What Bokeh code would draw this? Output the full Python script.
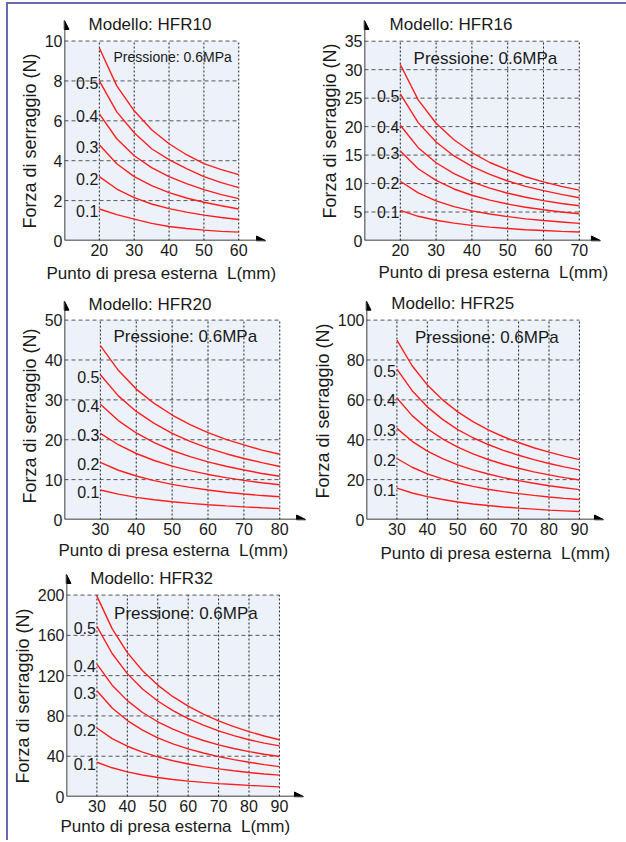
from bokeh.plotting import figure
from bokeh.models import Range1d, FixedTicker, Label, Arrow, NormalHead, Title
from bokeh.layouts import column, row
from bokeh.embed import file_html
from bokeh.resources import INLINE
from bokeh.core.properties import value

FONT = "Liberation Sans"
RED = "#FF1E1E"
TXT = "#1a1a1a"

pressures = ["0.1", "0.2", "0.3", "0.4", "0.5", "0.6"]

# ---- HFR10 ----
hfr10_L = [20, 25, 30, 35, 40, 45, 50, 55, 60]
hfr10_p01 = [1.58, 1.30, 1.07, 0.86, 0.70, 0.60, 0.52, 0.46, 0.42]
hfr10_p02 = [3.20, 2.58, 2.15, 1.83, 1.60, 1.42, 1.27, 1.15, 1.05]
hfr10_p03 = [4.80, 3.85, 3.20, 2.75, 2.40, 2.13, 1.92, 1.74, 1.58]
hfr10_p04 = [6.35, 5.10, 4.25, 3.65, 3.20, 2.85, 2.55, 2.30, 2.10]
hfr10_p05 = [8.00, 6.45, 5.40, 4.60, 4.05, 3.60, 3.20, 2.90, 2.65]
hfr10_p06 = [9.65, 7.75, 6.50, 5.55, 4.85, 4.30, 3.85, 3.55, 3.30]
hfr10_xticks = [20, 30, 40, 50, 60]
hfr10_yticks = [0, 2, 4, 6, 8, 10]

# ---- HFR16 ----
hfr16_L = [20, 25, 30, 35, 40, 45, 50, 55, 60, 65, 70]
hfr16_p01 = [5.3, 4.25, 3.55, 3.05, 2.65, 2.35, 2.1, 1.9, 1.75, 1.6, 1.5]
hfr16_p02 = [10.4, 8.35, 6.95, 5.95, 5.2, 4.65, 4.2, 3.8, 3.5, 3.25, 3.0]
hfr16_p03 = [15.7, 12.6, 10.55, 9.05, 7.95, 7.1, 6.4, 5.85, 5.4, 5.0, 4.7]
hfr16_p04 = [20.25, 16.3, 13.65, 11.75, 10.3, 9.2, 8.3, 7.6, 7.0, 6.5, 6.1]
hfr16_p05 = [25.75, 20.7, 17.3, 14.85, 13.0, 11.6, 10.45, 9.5, 8.75, 8.1, 7.5]
hfr16_p06 = [30.9, 24.7, 20.6, 17.7, 15.45, 13.7, 12.4, 11.2, 10.3, 9.5, 8.85]
hfr16_xticks = [20, 30, 40, 50, 60, 70]
hfr16_yticks = [0, 5, 10, 15, 20, 25, 30, 35]

# ---- HFR20 ----
hfr20_L = [30, 35, 40, 45, 50, 55, 60, 65, 70, 75, 80]
hfr20_p01 = [7.4, 6.35, 5.55, 4.95, 4.45, 4.05, 3.7, 3.42, 3.17, 2.93, 2.72]
hfr20_p02 = [14.3, 12.35, 10.9, 9.75, 8.8, 8.05, 7.4, 6.85, 6.4, 6.0, 5.7]
hfr20_p03 = [21.6, 18.75, 16.55, 14.8, 13.4, 12.25, 11.3, 10.5, 9.8, 9.2, 8.7]
hfr20_p04 = [28.9, 24.8, 21.7, 19.3, 17.3, 15.75, 14.45, 13.35, 12.4, 11.55, 10.85]
hfr20_p05 = [36.3, 31.0, 27.1, 24.1, 21.6, 19.6, 17.9, 16.5, 15.3, 14.25, 13.3]
hfr20_p06 = [43.6, 37.4, 32.7, 29.1, 26.2, 23.8, 21.8, 20.1, 18.7, 17.4, 16.35]
hfr20_xticks = [30, 40, 50, 60, 70, 80]
hfr20_yticks = [0, 10, 20, 30, 40, 50]

# ---- HFR25 ----
hfr25_L = [30, 35, 40, 45, 50, 55, 60, 65, 70, 75, 80, 85, 90]
hfr25_p01 = [15.7, 13.3, 11.5, 10.0, 8.8, 7.8, 7.0, 6.3, 5.7, 5.2, 4.7, 4.35, 4.0]
hfr25_p02 = [30.6, 26.2, 22.9, 20.35, 18.3, 16.6, 15.2, 14.0, 13.0, 12.1, 11.3, 10.6, 10.0]
hfr25_p03 = [45.7, 39.2, 34.3, 30.5, 27.4, 24.9, 22.8, 21.0, 19.5, 18.15, 16.95, 15.9, 15.0]
hfr25_p04 = [60.9, 52.1, 45.5, 40.4, 36.3, 32.9, 30.1, 27.7, 25.7, 23.9, 22.4, 21.0, 19.8]
hfr25_p05 = [75.4, 64.6, 56.5, 50.2, 45.1, 41.0, 37.6, 34.7, 32.2, 30.0, 28.1, 26.4, 24.9]
hfr25_p06 = [90.0, 77.1, 67.5, 60.0, 54.0, 49.1, 45.0, 41.5, 38.6, 36.0, 33.8, 31.8, 30.0]
hfr25_xticks = [30, 40, 50, 60, 70, 80, 90]
hfr25_yticks = [0, 20, 40, 60, 80, 100]

# ---- HFR32 ----
hfr32_L = [30, 35, 40, 45, 50, 55, 60, 65, 70, 75, 80, 85, 90]
hfr32_p01 = [34.0, 28.5, 24.4, 21.3, 18.9, 16.9, 15.3, 14.0, 12.8, 11.9, 11.0, 10.3, 9.6]
hfr32_p02 = [68.0, 57.5, 49.9, 44.0, 39.3, 35.5, 32.3, 29.7, 27.4, 25.5, 23.8, 22.4, 21.2]
hfr32_p03 = [105.0, 87.9, 75.4, 65.9, 58.3, 52.3, 47.3, 43.2, 39.6, 36.6, 34.0, 31.7, 29.7]
hfr32_p04 = [131.5, 110.5, 95.2, 83.4, 74.2, 66.8, 60.7, 55.6, 51.3, 47.7, 44.6, 41.9, 39.7]
hfr32_p05 = [169.0, 142.0, 122.0, 106.8, 94.8, 85.3, 77.4, 70.8, 65.2, 60.4, 56.3, 53.0, 50.3]
hfr32_p06 = [199.0, 166.7, 142.9, 124.8, 110.6, 99.1, 89.7, 81.8, 75.1, 69.4, 64.4, 60.1, 56.3]
hfr32_xticks = [30, 40, 50, 60, 70, 80, 90]
hfr32_yticks = [0, 40, 80, 120, 160, 200]


def make_chart(model, xs, curves, xticks, yticks, xr, yr, width, height, mb_top, mb_bottom,
               tip, title_xy, press_xy, press_size, xtitle_offset, xtitle_standoff,
               ytitle_offset):
    p = figure(width=width, height=height, x_range=Range1d(*xr), y_range=Range1d(*yr),
               output_backend="svg", toolbar_location=None,
               min_border_left=56, min_border_right=width - 298,
               min_border_top=mb_top, min_border_bottom=mb_bottom)
    p.outline_line_color = None
    p.background_fill_color = "white"
    p.xgrid.visible = False
    p.ygrid.visible = False
    x0 = xr[0]
    xmax = xticks[-1]
    ymax = yticks[-1]
    p.quad(left=[x0], right=[xmax], bottom=[yticks[0]], top=[ymax],
           fill_color="#EDF2FA", line_color=None)
    hy = yticks[1:]
    p.segment(x0=[x0] * len(hy), y0=hy, x1=[xmax] * len(hy), y1=hy,
              line_color="#555555", line_width=1, line_dash="4 3")
    p.segment(x0=xticks, y0=[yticks[0]] * len(xticks), x1=xticks, y1=[ymax] * len(xticks),
              line_color="#222222", line_width=1, line_dash="2 2")
    for c in curves:
        p.line(xs, c, line_color=RED, line_width=1.4)
    p.text(x=[xs[0]] * 5, y=[c[0] for c in curves[:5]], text=pressures[:5],
           text_align="right", text_baseline="middle", text_font=value(FONT),
           text_font_size="16px", text_color=TXT, x_offset=-1, y_offset=2)

    p.add_layout(Arrow(end=NormalHead(size=9, fill_color="black", line_color="black"),
                       x_start=x0, y_start=0, x_end=tip[0], y_end=0,
                       line_color="black", line_width=1.5))
    p.add_layout(Arrow(end=NormalHead(size=9, fill_color="black", line_color="black"),
                       x_start=x0, y_start=0, x_end=x0, y_end=tip[1],
                       line_color="black", line_width=1.5))

    p.add_layout(Label(x=title_xy[0], y=title_xy[1], text="Modello: " + model,
                       text_font=FONT, text_font_size="17px", text_color=TXT,
                       text_baseline="middle"))
    p.add_layout(Label(x=press_xy[0], y=press_xy[1], text="Pressione: 0.6MPa",
                       text_font=FONT, text_font_size=press_size, text_color=TXT,
                       text_baseline="middle"))

    for ax in (p.xaxis, p.yaxis):
        ax.axis_line_color = None
        ax.major_tick_out = 0
        ax.major_tick_in = 0
        ax.minor_tick_out = 0
        ax.minor_tick_in = 0
        ax.major_label_text_font = FONT
        ax.major_label_text_font_size = "16px"
        ax.major_label_text_color = TXT
    p.xaxis.ticker = FixedTicker(ticks=xticks)
    p.yaxis.ticker = FixedTicker(ticks=yticks)
    p.xaxis.major_label_standoff = 3
    p.yaxis.major_label_standoff = 2

    p.add_layout(Title(text="Forza di serraggio (N)", align="left",
                       offset=ytitle_offset, text_font=FONT, text_font_size="18px",
                       text_font_style="normal", text_color=TXT, standoff=4), "left")
    p.add_layout(Title(text="Punto di presa esterna\u00a0 L(mm)", align="left",
                       offset=xtitle_offset, text_font=FONT, text_font_size="17px",
                       text_font_style="normal", text_color=TXT,
                       standoff=xtitle_standoff), "below")
    return p


f1 = make_chart("HFR10", hfr10_L,
                [hfr10_p01, hfr10_p02, hfr10_p03, hfr10_p04, hfr10_p05, hfr10_p06],
                hfr10_xticks, hfr10_yticks, (10, 79.44), (0, 11.33), 300, 284, 10, 48,
                (67.7, 11.03), (16.9, 10.83), (24.06, 9.19), "14px", -18, 6, 12)
f2 = make_chart("HFR16", hfr16_L,
                [hfr16_p01, hfr16_p02, hfr16_p03, hfr16_p04, hfr16_p05, hfr16_p06],
                hfr16_xticks, hfr16_yticks, (10, 77.60), (0, 39.69), 318, 284, 10, 48,
                (75.9, 38.64), (17.0, 37.93), (23.7, 32.05), "17px", 14, 5, 22)
f3 = make_chart("HFR20", hfr20_L,
                [hfr20_p01, hfr20_p02, hfr20_p03, hfr20_p04, hfr20_p05, hfr20_p06],
                hfr20_xticks, hfr20_yticks, (20, 87.45), (0, 56.42), 300, 280, 6, 49,
                (87.2, 54.74), (26.7, 53.9), (33.66, 45.9), "17px", -6, 3, 16)
f4 = make_chart("HFR25", hfr25_L,
                [hfr25_p01, hfr25_p02, hfr25_p03, hfr25_p04, hfr25_p05, hfr25_p06],
                hfr25_xticks, hfr25_yticks, (20, 98.9), (0, 112.84), 318, 280, 6, 49,
                (97.9, 109.5), (28.15, 108.1), (35.98, 91.5), "17px", 14, 8, 21)
f5 = make_chart("HFR32", hfr32_L,
                [hfr32_p01, hfr32_p02, hfr32_p03, hfr32_p04, hfr32_p05, hfr32_p06],
                hfr32_xticks, hfr32_yticks, (20, 98.9), (0, 224.4), 300, 272, 2, 44,
                (97.9, 220.5), (27.8, 216.0), (35.65, 182.2), "17px", -6, 1, 13)

root = column(row(f1, f2), row(f3, f4), row(f5),
              styles={"margin-top": "2px", "margin-left": "6px",
                      "border-top": "2px solid #6a6ab4",
                      "border-left": "2px solid #6a6ab4"})

open("out.html", "w").write(file_html(root, INLINE))
